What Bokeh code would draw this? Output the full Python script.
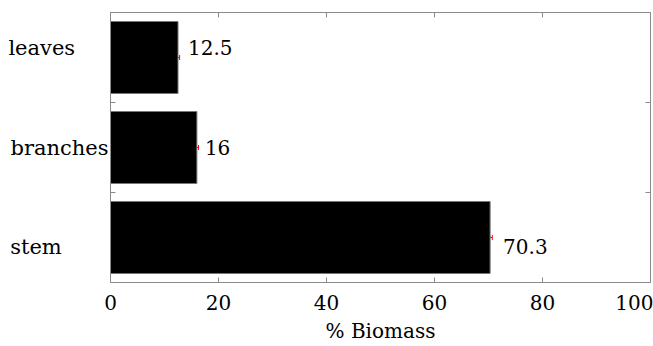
from bokeh.plotting import figure
from bokeh.models import (ColumnDataSource, Range1d, LinearAxis, FixedTicker,
                          Whisker, TeeHead)
from bokeh.embed import file_html
from bokeh.resources import INLINE
from bokeh.core.properties import value

# ---- data ----
categories = ["stem", "branches", "leaves"]
biomass = [70.3, 16, 12.5]
errors = [0.4, 0.3, 0.3]
x_ticks = [0, 20, 40, 60, 80, 100]

# ---- label placement (styles, in pixels) ----
label_dx = [13, 8, 10]
label_dy = [9, 0, -10]
# trailing no-break spaces emulate the left-aligned category labels
cat_pad = [7, 0, 5]

FONT = "DejaVu Serif"
FS = "20px"
CAT_FS = "21px"
GRAY = "#8a8a8a"

W, H = 653, 346
B_LEFT, B_RIGHT, B_TOP, B_BOTTOM = 110, 3, 12, 64
FRAME_H = H - B_TOP - B_BOTTOM

pos = list(range(1, len(categories) + 1))
px_per_unit = FRAME_H / len(categories)

src = ColumnDataSource(dict(
    y=pos, v=biomass, cat=categories,
    lo=[b - e for b, e in zip(biomass, errors)],
    hi=[b + e for b, e in zip(biomass, errors)],
    txt=[f"{b:g}" for b in biomass],
    dx=label_dx, dy=label_dy,
))

p = figure(width=W, height=H, output_backend="svg", toolbar_location=None,
           x_range=Range1d(0, 100), y_range=Range1d(0.5, len(categories) + 0.5),
           x_axis_type=None, y_axis_type=None,
           min_border_left=B_LEFT, min_border_right=B_RIGHT,
           min_border_top=B_TOP, min_border_bottom=B_BOTTOM)
p.outline_line_color = GRAY
p.background_fill_color = "white"
p.border_fill_color = "white"

p.hbar(y="y", right="v", left=0, height=0.8, source=src,
       fill_color="black", line_color="#777777", line_width=1)

p.add_layout(Whisker(source=src, base="y", lower="lo", upper="hi",
                     dimension="width", line_color="red", line_width=1,
                     upper_head=TeeHead(size=5, line_color="red", line_width=1),
                     lower_head=TeeHead(size=5, line_color="red", line_width=1)))

p.text(x="v", y="y", text="txt", x_offset="dx", y_offset="dy", source=src,
       text_font=value(FONT), text_font_size=FS, text_color="black",
       text_align="left", text_baseline="middle")


def style_axis(ax, ticks, labels=True):
    ax.axis_line_color = GRAY
    ax.major_tick_line_color = GRAY
    ax.major_tick_in = 5
    ax.major_tick_out = 0
    ax.minor_tick_line_color = None
    ax.major_label_text_font = FONT
    ax.major_label_text_font_size = FS
    ax.major_label_text_color = "black"
    if not labels:
        ax.major_label_overrides = {t: "" for t in ticks}
        ax.major_label_standoff = 0


xb = LinearAxis(ticker=FixedTicker(ticks=x_ticks, minor_ticks=[]),
                axis_label="% Biomass")
style_axis(xb, x_ticks)
xb.major_label_standoff = 12
xb.axis_label_text_font = FONT
xb.axis_label_text_font_size = FS
xb.axis_label_text_font_style = "normal"
xb.axis_label_text_color = "black"
xb.axis_label_standoff = 6
p.add_layout(xb, "below")

xa = LinearAxis(ticker=FixedTicker(ticks=x_ticks, minor_ticks=[]))
style_axis(xa, x_ticks, labels=False)
p.add_layout(xa, "above")

# inner left axis: tick marks between categories only
yt_ticks = [i + 0.5 for i in pos[:-1]]
yl = LinearAxis(ticker=FixedTicker(ticks=yt_ticks, minor_ticks=[]))
style_axis(yl, yt_ticks, labels=False)
p.add_layout(yl, "left")

# outer left axis: category names, no tick marks or line
cat_ticks = [yv - d / px_per_unit for yv, d in zip(pos, label_dy)]
yc = LinearAxis(ticker=FixedTicker(ticks=cat_ticks, minor_ticks=[]))
style_axis(yc, cat_ticks)
yc.major_label_text_font_size = CAT_FS
yc.major_tick_in = 0
yc.axis_line_color = None
yc.major_label_standoff = 2
yc.major_label_overrides = {t: cat + "\u00a0" * n
                            for t, cat, n in zip(cat_ticks, categories, cat_pad)}
p.add_layout(yc, "left")

yr = LinearAxis(ticker=FixedTicker(ticks=yt_ticks, minor_ticks=[]))
style_axis(yr, yt_ticks, labels=False)
p.add_layout(yr, "right")

open("out.html", "w").write(file_html(p, INLINE))
